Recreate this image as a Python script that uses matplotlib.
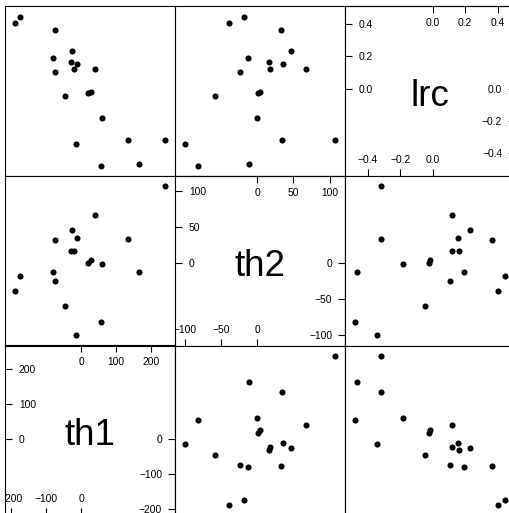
import matplotlib
matplotlib.use("Agg")
import matplotlib.pyplot as plt
import numpy as np

plt.rcParams["font.family"] = ["Liberation Sans", "DejaVu Sans"]

# parameter estimates, one entry per fit
th1 = [-186.8, -173.4, -80.1, -75.3, -74.4, -45.8, -29.6, -24.9, -21.0, -13.4,
       -11.5, 18.9, 27.5, 39.9, 56.1, 60.9, 135.1, 164.7, 238.0]
th2 = [-39.0, -18.0, -12.6, 32.3, -24.4, -59.2, 16.7, 46.7, 17.5, -99.9,
       35.3, 0.5, 3.9, 67.8, -81.8, -1.2, 33.7, -12.4, 107.0]
lrc = [0.404, 0.443, 0.190, 0.364, 0.105, -0.048, 0.165, 0.232, 0.120, -0.342,
       0.153, -0.025, -0.019, 0.118, -0.476, -0.184, -0.317, -0.464, -0.320]

var_names = ["th1", "th2", "lrc"]
var_data = [th1, th2, lrc]

# ticks shown on the diagonal panels: upper half (left/top), lower half (right/bottom)
hi_ticks = [[0, 100, 200], [0, 50, 100], [0.0, 0.2, 0.4]]
lo_ticks = [[-200, -100, 0], [-100, -50, 0], [-0.4, -0.2, 0.0]]
hi_labels = [["0", "100", "200"], ["0", "50", "100"], ["0.0", "0.2", "0.4"]]
lo_labels = [["\u2212200", "\u2212100", "0"], ["\u2212100", "\u221250", "0"],
             ["\u22120.4", "\u22120.2", "0.0"]]


def padded_range(v, frac=0.07):
    lo, hi = min(v), max(v)
    r = hi - lo
    return lo - frac * r, hi + frac * r


lims = [padded_range(v) for v in var_data]

W, H = 509, 513
fig = plt.figure(figsize=(W / 100, H / 100), dpi=100)

col_left = [5, 175, 345]
row_top = [6.5, 176, 345.5]
pw, ph = 170, 169.5

TICK_KW = dict(direction="in", length=5, width=0.8, labelsize=7.4, colors="black")


def clip_labels(labels, ax):
    # keep tick labels inside their panel
    for lab in labels:
        lab.set_clip_path(ax.patch)


for r in range(3):
    yi = 2 - r
    for c in range(3):
        xi = c
        left = col_left[c] / W
        bottom = 1 - (row_top[r] + ph) / H
        ax = fig.add_axes([left, bottom, pw / W, ph / H])
        ax.set_xlim(*lims[xi])
        ax.set_ylim(*lims[yi])
        for s in ax.spines.values():
            s.set_linewidth(0.8)
            s.set_color("black")

        if xi == yi:
            # diagonal: variable name plus its scale on all four sides
            ax.annotate(var_names[xi], (0.5, 0.5), xycoords="axes fraction",
                        xytext=(0, -10.8), textcoords="offset points",
                        ha="center", va="baseline", fontsize=26.5)

            ax.set_xticks(lo_ticks[xi], labels=lo_labels[xi])
            ax.tick_params(axis="x", pad=-11.5, **TICK_KW)
            plt.setp(ax.get_xticklabels(), va="center")
            clip_labels(ax.get_xticklabels(), ax)

            ax.set_yticks(hi_ticks[yi], labels=hi_labels[yi])
            ax.tick_params(axis="y", pad=-10.0, **TICK_KW)
            plt.setp(ax.get_yticklabels(), ha="left")

            top = ax.secondary_xaxis("top")
            top.set_xticks(hi_ticks[xi], labels=hi_labels[xi])
            top.tick_params(axis="x", pad=-12.0, **TICK_KW)
            plt.setp(top.get_xticklabels(), va="center")
            top.spines["top"].set_linewidth(0.8)

            right = ax.secondary_yaxis("right")
            right.set_yticks(lo_ticks[yi], labels=lo_labels[yi])
            right.tick_params(axis="y", pad=-9.2, **TICK_KW)
            plt.setp(right.get_yticklabels(), ha="right")
            right.spines["right"].set_linewidth(0.8)
        else:
            ax.set_xticks([])
            ax.set_yticks([])
            ax.plot(var_data[xi], var_data[yi], "o", color="black",
                    ms=4.4, mew=0)

fig.savefig("out.png", dpi=100)
